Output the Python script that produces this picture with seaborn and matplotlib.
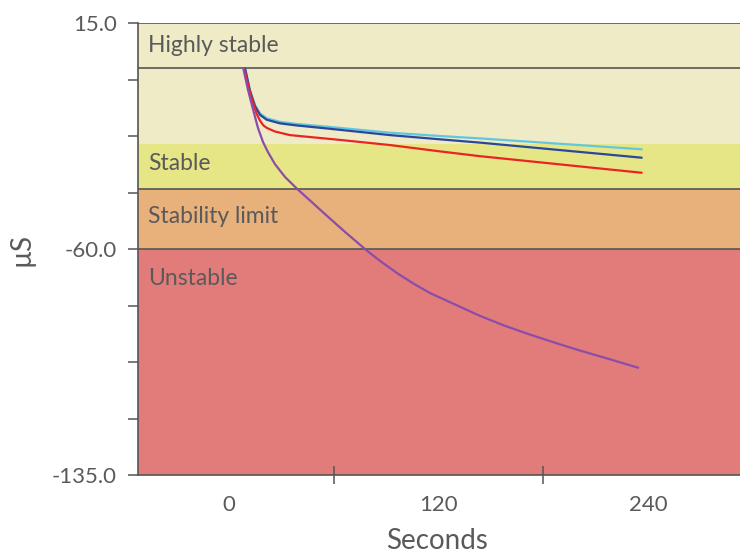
import matplotlib
matplotlib.use("Agg")
import matplotlib.pyplot as plt
import seaborn as sns
import pandas as pd
from matplotlib.ticker import FixedLocator, NullFormatter

sns.set_style("white")
plt.rcParams["font.family"] = ["Lato", "DejaVu Sans"]

# Stability bands (µS)
band_names = ["Highly stable", "Stable", "Stability limit", "Unstable"]
band_upper = [15, -25, -40, -60]
band_lower = [-25, -40, -60, -135]
band_colors = ["#eeebc6", "#e7e686", "#e8b07b", "#e27c7a"]
band_label_y = [5.5, -33.8, -51.5, -71.9]
boundary_levels = [15, 0, -40, -60]

# Measured curves: time (s) and value (µS)
t_light = [9.2, 12.0, 14.9, 17.8, 21.6, 29.2, 38.8, 57.8, 92.2, 120.8, 143.8, 236.4]
v_light = [0, -7.2, -12.2, -15.0, -16.6, -17.8, -18.5, -19.5, -21.4, -22.5, -23.3, -26.9]

t_dark = [9.2, 12.0, 14.9, 17.8, 21.6, 29.2, 38.8, 57.8, 92.2, 120.8, 143.8, 236.4]
v_dark = [0, -7.5, -12.6, -15.5, -17.1, -18.3, -19.0, -20.1, -22.2, -23.6, -24.7, -29.7]

t_red = [8.7, 12.0, 13.9, 15.9, 17.8, 19.6, 21.6, 26.3, 34.9, 63.6, 92.2, 120.8, 143.8, 236.4]
v_red = [0, -8.0, -11.6, -15.2, -17.4, -18.9, -19.8, -21.0, -22.2, -23.8, -25.5, -27.6, -29.2, -34.7]

t_purple = [8.2, 10.9, 13.9, 16.6, 19.5, 22.3, 26.3, 32.1, 38.8, 46.4, 54.0, 66.4,
            78.9, 87.6, 96.8, 106.0, 115.1, 129.4, 143.8, 158.1, 172.4, 186.7, 201.0,
            218.2, 234.4]
v_purple = [0, -7.2, -13.9, -19.8, -24.5, -27.8, -31.8, -36.1, -39.9, -43.9, -47.9, -54.3,
            -60.5, -64.4, -68.2, -71.6, -74.6, -78.4, -82.2, -85.5, -88.4, -91.1, -93.7,
            -96.6, -99.4]

series_names = ["Sample 1", "Sample 2", "Sample 3", "Sample 4"]
series_colors = ["#62c6e0", "#2a479b", "#ea2424", "#8c4caa"]

# Axis ticks
x_label_ticks = [0, 120, 240]
x_minor_ticks = [60, 180]
y_ticks = [15, -3.75, -22.5, -41.25, -60, -78.75, -97.5, -116.25, -135]
y_tick_labels = ["15.0", "", "", "", "-60.0", "", "", "", "-135.0"]

frames = []
for name, t, v in zip(series_names,
                      [t_light, t_dark, t_red, t_purple],
                      [v_light, v_dark, v_red, v_purple]):
    frames.append(pd.DataFrame({"Seconds": t, "value": v, "series": name}))
df = pd.concat(frames, ignore_index=True)

fig = plt.figure(figsize=(7.4, 5.57), dpi=100)
ax = fig.add_axes([138 / 740, 1 - 475 / 557, 602 / 740, 452 / 557])

grey = "#555555"
text_grey = "#5a5a5a"

for up, lo, c in zip(band_upper, band_lower, band_colors):
    ax.axhspan(lo, up, color=c, lw=0, zorder=0)
for lvl in boundary_levels:
    ax.axhline(lvl, color=grey, lw=1.2, zorder=1)

sns.lineplot(data=df, x="Seconds", y="value", hue="series",
             palette=dict(zip(series_names, series_colors)),
             sort=False, estimator=None, legend=False, lw=1.6, ax=ax, zorder=3)
for line in ax.get_lines():
    line.set_solid_joinstyle("round")

for name, y in zip(band_names, band_label_y):
    ax.text(-46.4, y, name, fontsize=16.5, color=text_grey, va="baseline", ha="left", zorder=4)

ax.set_xlim(-52.1, 292.7)
ax.set_ylim(-135, 15)

ax.xaxis.set_major_locator(FixedLocator(x_label_ticks))
ax.set_xticklabels([str(v) for v in x_label_ticks])
ax.xaxis.set_minor_locator(FixedLocator(x_minor_ticks))
ax.xaxis.set_minor_formatter(NullFormatter())
ax.tick_params(axis="x", which="major", length=0, pad=14.5, labelsize=16, labelcolor=text_grey)
ax.tick_params(axis="x", which="minor", direction="inout", length=13, width=1.1,
               color=grey, bottom=True)

ax.yaxis.set_major_locator(FixedLocator(y_ticks))
ax.set_yticklabels(y_tick_labels)
ax.tick_params(axis="y", which="major", direction="out", length=7.2, width=1.1,
               color=grey, pad=8, labelsize=16, labelcolor=text_grey, left=True)

for side in ["top", "right"]:
    ax.spines[side].set_visible(False)
for side in ["left", "bottom"]:
    ax.spines[side].set_color(grey)
    ax.spines[side].set_linewidth(1.2)
    ax.spines[side].set_zorder(5)

ax.set_xlabel("Seconds", fontsize=20, color=text_grey)
ax.set_ylabel("µS", fontsize=20, color=text_grey)
ax.xaxis.set_label_coords(0.497, -0.118)
ax.yaxis.set_label_coords(-0.172, 0.5)

fig.savefig("out.png", dpi=100)
